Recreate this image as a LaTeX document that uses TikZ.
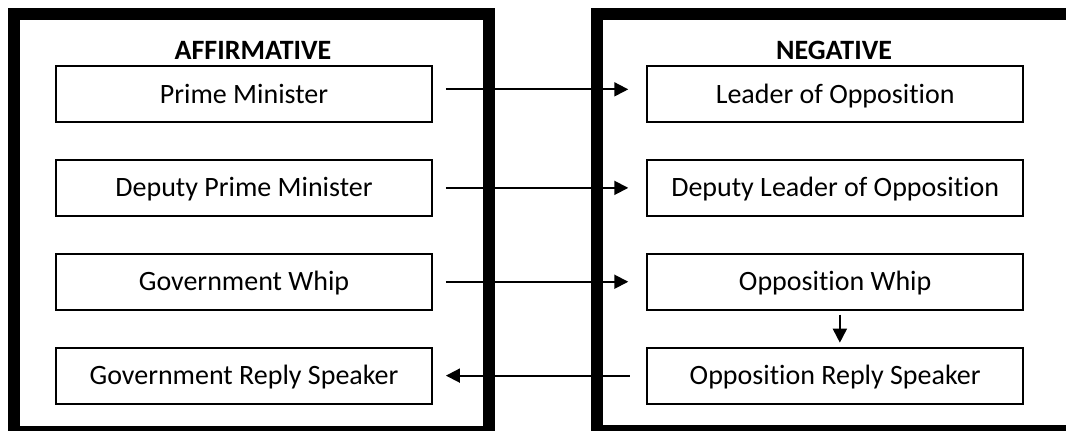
\documentclass[tikz,border=0pt]{standalone}
\usepackage{fontspec}
\setmainfont{Carlito}[Ligatures=NoCommon]
\usetikzlibrary{positioning,arrows.meta}

\begin{document}
\begin{tikzpicture}[
  x=0.75pt,y=-0.75pt,
  font=\fontsize{21}{25}\selectfont,
  node distance=27pt and 160pt,
  role/.style={draw,line width=1.4pt,minimum width=282pt,minimum height=42pt,inner sep=0pt,
    text height=13.5pt,text depth=0pt},
  side/.style={draw,line width=9pt},
  title/.style={font=\fontsize{21}{25}\selectfont\bfseries},
  link/.style={-{Triangle[length=10.5pt,width=10.5pt]},line width=1.4pt}]
\useasboundingbox (0,0) rectangle (1066,430);
% the two teams
\draw[side] (14,14) rectangle (488.5,432);
\draw[side] (596.5,13.5) rectangle (1072.5,431);
\node[title] (aff) at (253,50) {AFFIRMATIVE};
\node[title] (neg) at (834,50) {NEGATIVE};
% speakers
\node[role] (pm) at (244,94) {Prime Minister};
\node[role,below=of pm] (dpm) {Deputy Prime Minister};
\node[role,below=of dpm] (gw) {Government Whip};
\node[role,below=of gw] (grs) {Government Reply Speaker};
\node[role,right=of pm] (lo) {Leader of Opposition};
\node[role,right=of dpm] (dlo) {Deputy Leader of Opposition};
\node[role,right=of gw] (ow) {Opposition Whip};
\node[role,right=of grs] (ors) {Opposition Reply Speaker};
% speaking order
\draw[link,shorten <=9.75pt,shorten >=13.5pt] ([yshift=3.5pt]pm.east) -- ([yshift=3.5pt]lo.west);
\draw[link,shorten <=9.75pt,shorten >=13.5pt] (dpm) -- (dlo);
\draw[link,shorten <=9.75pt,shorten >=13.5pt] (gw) -- (ow);
\draw[link,shorten <=3pt,shorten >=3pt] ([xshift=3.5pt]ow.south) -- ([xshift=3.5pt]ors.north);
\draw[link,shorten <=12.4pt,shorten >=9.75pt] (ors) -- (grs);
\end{tikzpicture}
\end{document}
